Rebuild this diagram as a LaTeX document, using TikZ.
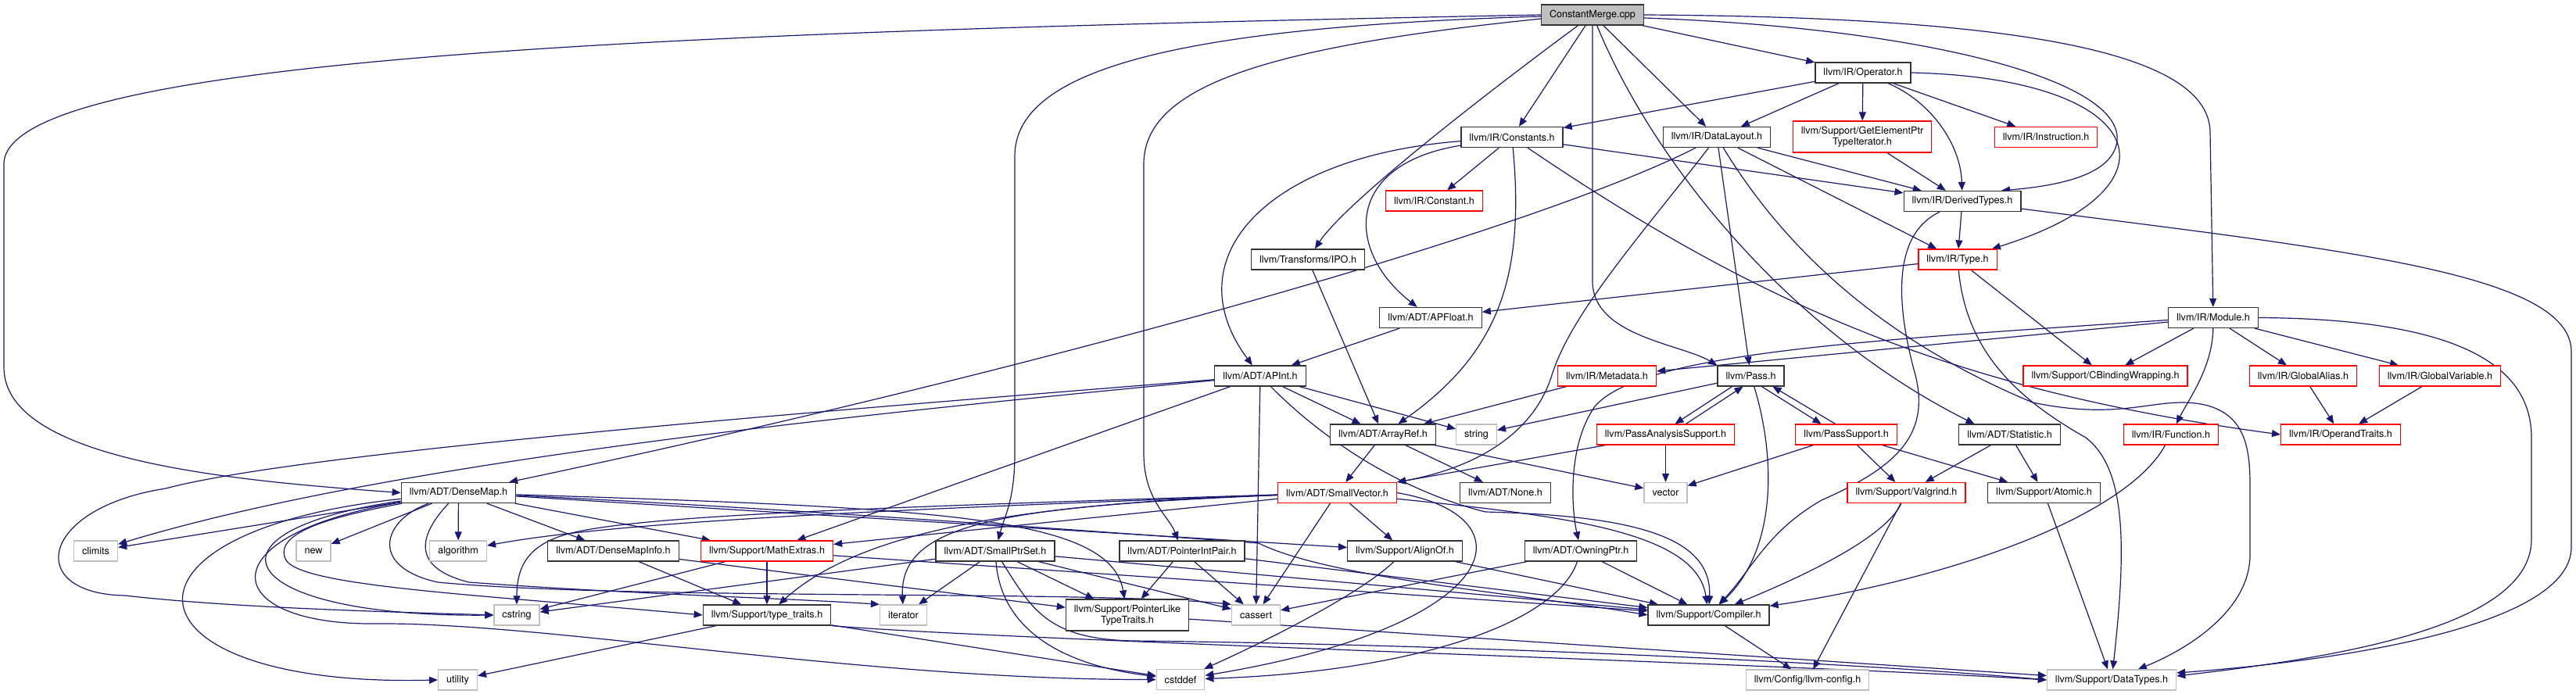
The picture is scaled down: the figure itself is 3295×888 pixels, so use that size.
\documentclass[tikz,border=0pt]{standalone}
\usepackage{fontspec}
\setmainfont{TeX Gyre Heros}
\usepackage{xcolor,tikz}
\usetikzlibrary{arrows.meta}
\pgfdeclarelayer{bg}
\pgfsetlayers{bg,main}
\definecolor{edgeblue}{HTML}{191970}
\definecolor{sysgray}{HTML}{BFBFBF}

\begin{document}
\begin{tikzpicture}[x=1pt,y=-1pt,hdr/.style={draw=black!80,line width=1.3pt,fill=white,font=\fontsize{12.6}{14}\selectfont,inner xsep=10.5pt,inner ysep=2pt,minimum height=26pt,align=center},trunc/.style={hdr,draw=red},sys/.style={hdr,draw=sysgray},root/.style={hdr,fill=sysgray},arr/.style={-{Triangle[length=11pt,width=9pt]},draw=edgeblue,line width=1.2pt}]
\useasboundingbox (0,0) rectangle (3295,888);
\node[root] (cm) at (2037,19) {ConstantMerge.cpp};
\node[hdr] (op) at (2383,93) {llvm/IR/Operator.h};
\node[hdr] (cs) at (1934,175.5) {llvm/IR/Constants.h};
\node[hdr] (dl) at (2196,175.5) {llvm/IR/DataLayout.h};
\node[trunc,minimum height=40pt] (gep) at (2382,175) {llvm/Support/GetElementPtr\\TypeIterator.h};
\node[trunc] (ins) at (2617,175.5) {llvm/IR/Instruction.h};
\node[trunc] (cnt) at (1834.5,257) {llvm/IR/Constant.h};
\node[hdr] (dt) at (2510,257.5) {llvm/IR/DerivedTypes.h};
\node[hdr] (ipo) at (1673,332) {llvm/Transforms/IPO.h};
\node[trunc] (ty) at (2504,332) {llvm/IR/Type.h};
\node[hdr] (apf) at (1830,406.5) {llvm/ADT/APFloat.h};
\node[hdr] (mod) at (2831,406.5) {llvm/IR/Module.h};
\node[hdr] (api) at (1612,481) {llvm/ADT/APInt.h};
\node[trunc] (meta) at (2055.5,481) {llvm/IR/Metadata.h};
\node[hdr] (pass) at (2239.5,481) {llvm/Pass.h};
\node[trunc] (cbw) at (2693,481) {llvm/Support/CBindingWrapping.h};
\node[trunc] (ga) at (2946,481) {llvm/IR/GlobalAlias.h};
\node[trunc] (gv) at (3121,481) {llvm/IR/GlobalVariable.h};
\node[hdr] (ar) at (1769,556) {llvm/ADT/ArrayRef.h};
\node[sys] (str) at (1888.5,556) {string};
\node[trunc] (pas) at (2130.5,556) {llvm/PassAnalysisSupport.h};
\node[trunc] (ps) at (2361.5,556) {llvm/PassSupport.h};
\node[hdr] (stat) at (2570.5,556) {llvm/ADT/Statistic.h};
\node[trunc] (fn) at (2777,556) {llvm/IR/Function.h};
\node[trunc] (ot) at (2994,556) {llvm/IR/OperandTraits.h};
\node[hdr] (dm) at (586.5,630.5) {llvm/ADT/DenseMap.h};
\node[trunc] (sv) at (1710.5,630.5) {llvm/ADT/SmallVector.h};
\node[hdr] (none) at (1925.5,630.5) {llvm/ADT/None.h};
\node[sys] (vec) at (2130.5,630.5) {vector};
\node[trunc] (vg) at (2438.5,630.5) {llvm/Support/Valgrind.h};
\node[hdr] (atom) at (2614.5,630.5) {llvm/Support/Atomic.h};
\node[sys] (clim) at (122.5,705) {climits};
\node[sys] (new) at (401,705) {new};
\node[sys] (alg) at (586,705) {algorithm};
\node[hdr] (dmi) at (784.5,705) {llvm/ADT/DenseMapInfo.h};
\node[trunc] (me) at (981,705) {llvm/Support/MathExtras.h};
\node[hdr] (spset) at (1273,705) {llvm/ADT/SmallPtrSet.h};
\node[hdr] (pip) at (1512,705) {llvm/ADT/PointerIntPair.h};
\node[hdr] (aln) at (1797,705) {llvm/Support/AlignOf.h};
\node[hdr] (own) at (2022,705) {llvm/ADT/OwningPtr.h};
\node[sys] (cstr) at (661,787) {cstring};
\node[hdr] (tt) at (981,787) {llvm/Support/type\_traits.h};
\node[sys] (iter) at (1155.5,787) {iterator};
\node[hdr,minimum height=40pt] (plt) at (1442,787) {llvm/Support/PointerLike\\TypeTraits.h};
\node[sys] (cas) at (1606.5,787) {cassert};
\node[hdr] (comp) at (2185.5,787) {llvm/Support/Compiler.h};
\node[sys] (util) at (585.5,870) {utility};
\node[sys] (cdef) at (1510,869.5) {cstddef};
\node[sys] (cfg) at (2312,870) {llvm/Config/llvm-config.h};
\node[sys] (dtypes) at (2701,870) {llvm/Support/DataTypes.h};
\begin{pgfonlayer}{bg}
\fill[white] (0,0) rectangle (3295,888);
\draw[arr] (cm.west) .. controls (900,40) and (5,70) .. (5,210) -- (5,470) .. controls (5,590) and (300,615) .. (dm.west);
\draw[arr] ([yshift=-2pt]cm.west) .. controls (1500,35) and (1298,90) .. (1298,200) -- (1298,580) .. controls (1298,640) and (1285,660) .. (spset);
\draw[arr] ([yshift=-5pt]cm.west) .. controls (1620,60) and (1463,110) .. (1463,210) -- (1463,580) .. controls (1463,640) and (1495,660) .. (pip);
\draw[arr] (cm) .. controls (1900,120) and (1720,260) .. (ipo);
\draw[arr] (cm) -- (cs); \draw[arr] (cm) -- (dl); \draw[arr] (cm) -- (op);
\draw[arr] (cm.south) -- (2037,360) .. controls (2037,430) and (2150,440) .. (pass.north west);
\draw[arr] (cm) .. controls (2120,220) and (2300,430) .. ([xshift=-45pt]stat.north);
\draw[arr] ([yshift=-4pt]cm.east) .. controls (2450,35) and (2715,100) .. (2708,180) .. controls (2703,225) and (2630,238) .. ([xshift=50pt]dt.north);
\draw[arr] (cm.east) .. controls (2600,22) and (2827,70) .. (2827,170) -- (mod);
\draw[arr] (op) -- (cs); \draw[arr] (op) -- (dl); \draw[arr] (op) -- (gep); \draw[arr] (op) -- (ins);
\draw[arr] (op) .. controls (2470,130) and (2508,185) .. (dt);
\draw[arr] (op.east) .. controls (2750,100) and (2800,240) .. (ty);
\draw[arr] (cs) .. controls (1620,200) and (1500,330) .. (api);
\draw[arr] (cs) .. controls (1720,210) and (1720,320) .. (apf);
\draw[arr] (cs) -- (cnt); \draw[arr] (cs) -- (dt);
\draw[arr] (cs) .. controls (1950,350) and (1920,450) .. (ar);
\draw[arr] (cs) .. controls (2250,390) and (2500,500) .. (ot.west);
\draw[arr] (dl) .. controls (1950,300) and (1300,480) .. (dm);
\draw[arr] (dl) .. controls (2100,300) and (2010,400) .. (1985,480) .. controls (1960,560) and (1880,600) .. (sv.north east);
\draw[arr] (dl) -- (dt); \draw[arr] (dl) -- (ty); \draw[arr] (dl) -- (pass);
\draw[arr] (dl) .. controls (2290,330) and (2420,440) .. (2600,515) .. controls (2720,540) and (2760,505) .. (2820,518) .. controls (2870,530) and (2878,570) .. (2878,620) -- (2878,710) .. controls (2878,780) and (2800,830) .. (dtypes);
\draw[arr] (dt) -- (ty);
\draw[arr] (dt) .. controls (2420,300) and (2425,390) .. (2450,480) .. controls (2470,560) and (2420,600) .. (2330,640) .. controls (2260,680) and (2240,730) .. (comp);
\draw[arr] (dt) .. controls (3000,320) and (3289,350) .. (3289,450) -- (3289,700) .. controls (3289,800) and (3000,845) .. ([yshift=9pt]dtypes.east);
\draw[arr] (ty) -- (apf); \draw[arr] (ty) -- (cbw);
\draw[arr] (ty) .. controls (2515,450) and (2580,510) .. (2668,560) .. controls (2720,600) and (2720,700) .. (dtypes);
\draw[arr] (gep) -- (dt); \draw[arr] (ipo) -- (ar); \draw[arr] (apf) -- (api);
\draw[arr] (mod) -- (meta);
\draw[arr] ([yshift=-3pt]mod.west) .. controls (2400,435) and (2100,450) .. (2040,520) .. controls (2005,570) and (2010,650) .. (own);
\draw[arr] (mod) -- (cbw); \draw[arr] (mod) -- (ga); \draw[arr] (mod) -- (gv);
\draw[arr] (mod) .. controls (2830,470) and (2800,510) .. (fn);
\draw[arr] (mod.east) .. controls (3150,408) and (3238,470) .. (3238,560) -- (3238,690) .. controls (3238,800) and (3000,840) .. ([yshift=5pt]dtypes.east);
\draw[arr] (api) -- (ar); \draw[arr] (api) -- (str); \draw[arr] (api) -- (me); \draw[arr] (api) -- (cas);
\draw[arr] (api) .. controls (1100,530) and (500,590) .. (clim);
\draw[arr] (api) .. controls (1000,530) and (380,580) .. (212,625) .. controls (50,650) and (30,760) .. (160,762) .. controls (300,778) and (500,783) .. (cstr.west);
\draw[arr] (api) .. controls (1700,570) and (1800,630) .. (1900,655) .. controls (2100,660) and (2190,690) .. (comp);
\draw[arr] (meta) -- (ar);
\draw[arr] (pass) -- (str);
\draw[arr] ([xshift=-24pt]pass.south) -- ([xshift=12pt]pas.north);
\draw[arr] ([xshift=26pt]pas.north) -- ([xshift=-10pt]pass.south);
\draw[arr] ([xshift=14pt]pass.south) -- ([xshift=-32pt]ps.north);
\draw[arr] ([xshift=-14pt]ps.north) -- ([xshift=28pt]pass.south);
\draw[arr] (pass) .. controls (2270,580) and (2275,700) .. (comp);
\draw[arr] (pas) -- (vec); \draw[arr] (pas) -- (sv);
\draw[arr] (ps) -- (vec); \draw[arr] (ps) -- (vg); \draw[arr] (ps) -- (atom);
\draw[arr] (stat) -- (vg); \draw[arr] (stat) -- (atom);
\draw[arr] (vg) .. controls (2410,690) and (2300,740) .. (comp); \draw[arr] (vg) -- (cfg);
\draw[arr] (atom) -- (dtypes);
\draw[arr] (fn) .. controls (2720,660) and (2500,740) .. (comp);
\draw[arr] (ga) -- (ot); \draw[arr] (gv) -- (ot);
\draw[arr] (ar) -- (sv); \draw[arr] (ar) -- (none); \draw[arr] (ar) -- (vec);
\draw[arr] (sv) -- (aln); \draw[arr] (sv) -- (me); \draw[arr] (sv) -- (cas);
\draw[arr] (sv) .. controls (2000,660) and (2170,680) .. (comp);
\draw[arr] (sv) .. controls (1300,645) and (1100,680) .. (tt);
\draw[arr] (sv) .. controls (1200,650) and (800,665) .. (alg);
\draw[arr] (sv.east) .. controls (1960,660) and (1930,800) .. (cdef);
\draw[arr] (sv) .. controls (1280,648) and (1150,670) .. (iter);
\draw[arr] (sv) .. controls (1100,650) and (800,660) .. (720,685) .. controls (680,698) and (661,720) .. (cstr);
\draw[arr] (dm) -- (dmi); \draw[arr] (dm) -- (alg); \draw[arr] (dm) -- (new); \draw[arr] (dm) -- (me); \draw[arr] (dm) -- (clim); \draw[arr] (dm) -- (aln);
\draw[arr] (dm) .. controls (240,680) and (300,790) .. (cstr.west);
\draw[arr] (dm) .. controls (120,680) and (150,880) .. (util.west);
\draw[arr] (dm) .. controls (260,685) and (280,800) .. (480,798) .. controls (700,796) and (1100,870) .. (cdef.west);
\draw[arr] (dm) .. controls (430,660) and (350,680) .. (365,715) .. controls (380,750) and (600,760) .. (tt.west);
\draw[arr] (dm) .. controls (540,680) and (520,725) .. (600,745) .. controls (800,760) and (1000,765) .. (iter.north west);
\draw[arr] (dm) .. controls (490,665) and (470,725) .. (560,745) .. controls (800,768) and (1400,755) .. (cas.north west);
\draw[arr] (dm) .. controls (1000,650) and (1400,680) .. (1610,695) .. controls (1700,740) and (1950,760) .. (comp.west);
\draw[arr] (dm) .. controls (1200,650) and (1420,660) .. (plt);
\draw[arr] (dmi) -- (tt); \draw[arr] (dmi) -- (plt);
\draw[arr] (me) -- (tt); \draw[arr] (me) -- (cstr); \draw[arr] (me) -- (comp);
\draw[arr] (tt) -- (util); \draw[arr] (tt) -- (cdef);
\draw[arr] (tt.south east) .. controls (1300,820) and (2300,850) .. (dtypes.west);
\draw[arr] (plt) -- (dtypes);
\draw[arr] (spset) -- (iter); \draw[arr] (spset) -- (plt); \draw[arr] (spset) -- (cas); \draw[arr] (spset) -- (cstr); \draw[arr] (spset) -- (comp);
\draw[arr] (spset) .. controls (1280,800) and (1350,850) .. (cdef);
\draw[arr] (spset) .. controls (1320,780) and (1340,818) .. (1450,820) .. controls (1900,825) and (2400,850) .. (dtypes.west);
\draw[arr] (pip) -- (plt); \draw[arr] (pip) -- (cas); \draw[arr] (pip) -- (comp);
\draw[arr] (aln) .. controls (1740,760) and (1620,820) .. (cdef); \draw[arr] (aln) -- (comp);
\draw[arr] (own) -- (comp); \draw[arr] (own) -- (cas);
\draw[arr] (own) .. controls (1990,800) and (1800,860) .. (cdef);
\draw[arr] (comp) -- (cfg);
\end{pgfonlayer}
\end{tikzpicture}
\end{document}
